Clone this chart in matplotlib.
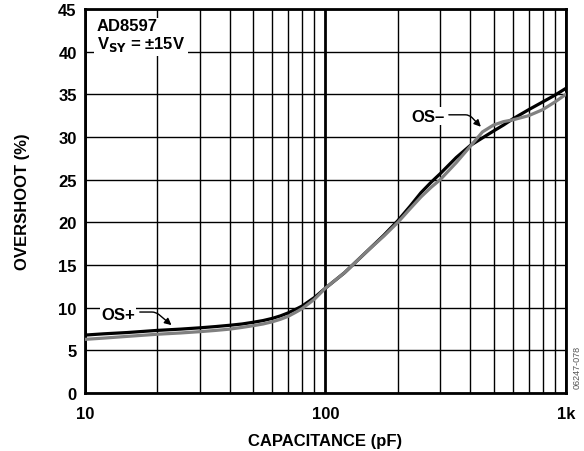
import matplotlib
matplotlib.use("Agg")
import matplotlib.pyplot as plt
from matplotlib.ticker import FixedLocator, NullFormatter

plt.rcParams["font.family"] = ["Liberation Sans", "DejaVu Sans"]
plt.rcParams["font.weight"] = "bold"

# capacitance (pF) vs overshoot (%)
cap = [10, 12, 15, 20, 25, 30, 35, 40, 45, 50, 55, 60, 65, 70, 75, 80, 90, 100,
       120, 150, 175, 200, 225, 250, 275, 300, 350, 400, 450, 500, 550, 600,
       700, 800, 900, 1000]
os_plus = [6.8, 6.95, 7.1, 7.35, 7.5, 7.65, 7.8, 7.95, 8.1, 8.3, 8.5, 8.75,
           9.05, 9.4, 9.8, 10.2, 11.2, 12.3, 14.1, 16.7, 18.5, 20.2, 21.9,
           23.5, 24.7, 25.7, 27.6, 29.0, 29.9, 30.7, 31.4, 32.1, 33.2, 34.1,
           34.9, 35.7]
os_minus = [6.3, 6.45, 6.65, 6.9, 7.05, 7.2, 7.35, 7.5, 7.7, 7.9, 8.1, 8.35,
            8.65, 9.0, 9.45, 9.9, 11.0, 12.3, 14.1, 16.7, 18.4, 20.0, 21.6,
            23.0, 24.1, 25.0, 27.0, 28.9, 30.6, 31.4, 31.8, 32.0, 32.5, 33.2,
            34.1, 35.0]

y_ticks = [0, 5, 10, 15, 20, 25, 30, 35, 40, 45]
x_ticks = [10, 100, 1000]
x_labels = ["10", "100", "1k"]

fig = plt.figure(figsize=(5.84, 4.52), dpi=100)
ax = fig.add_axes([0.1455, 0.128, 0.8235, 0.850])

ax.set_xscale("log")
ax.set_xlim(10, 1000)
ax.set_ylim(0, 45)

minor = [m * d for d in (10, 100) for m in range(2, 10)]
ax.xaxis.set_major_locator(FixedLocator(x_ticks))
ax.xaxis.set_minor_locator(FixedLocator(minor))
ax.xaxis.set_minor_formatter(NullFormatter())
ax.set_xticklabels(x_labels)
ax.set_yticks(y_ticks)

ax.grid(True, which="major", axis="x", color="black", linewidth=2.0)
ax.grid(True, which="minor", axis="x", color="black", linewidth=1.0)
ax.grid(True, which="major", axis="y", color="black", linewidth=1.0)
ax.set_axisbelow(True)
ax.tick_params(which="both", length=0)
ax.tick_params(axis="x", pad=9, labelsize=12)
ax.tick_params(axis="y", pad=6, labelsize=12)
for s in ax.spines.values():
    s.set_linewidth(2.0)

ax.plot(cap, os_plus, color="black", linewidth=2.3, zorder=3)
ax.plot(cap, os_minus, color="#808080", linewidth=2.3, zorder=4)

ax.set_xlabel("CAPACITANCE (pF)", fontsize=12, fontweight="bold", labelpad=9)
ax.set_ylabel("OVERSHOOT (%)", fontsize=12, fontweight="bold", labelpad=20)

ax.text(11.2, 43.9, "AD8597\nV$_{\\mathbf{SY}}$ = ±15V", fontsize=12, fontweight="bold",
        va="top", ha="left", linespacing=1.05,
        bbox=dict(facecolor="white", edgecolor="none", pad=2), zorder=5)

# curve labels with leader arrows
ax.text(13.7, 9.26, "OS+", fontsize=12, fontweight="bold", ha="center", va="center",
        bbox=dict(facecolor="white", edgecolor="none", pad=1), zorder=6)
ax.annotate("", xy=(22.9, 7.97), xytext=(16.9, 9.5),
            arrowprops=dict(arrowstyle="-|>", color="black", lw=1.0,
                            connectionstyle="angle,angleA=0,angleB=-40,rad=4",
                            shrinkA=0, shrinkB=0, mutation_scale=10), zorder=6)

ax.text(266, 32.46, "OS\u2013", fontsize=12, fontweight="bold", ha="center", va="center",
        bbox=dict(facecolor="white", edgecolor="none", pad=1), zorder=6)
ax.annotate("", xy=(443, 31.2), xytext=(326, 32.6),
            arrowprops=dict(arrowstyle="-|>", color="black", lw=1.0,
                            connectionstyle="angle,angleA=0,angleB=-46,rad=4",
                            shrinkA=0, shrinkB=0, mutation_scale=10), zorder=6)

fig.text(0.988, 0.186, "06247-078", rotation=90, fontsize=6.5, color="#555555",
         fontweight="normal", ha="center", va="center")

fig.savefig("out.png", dpi=100)
